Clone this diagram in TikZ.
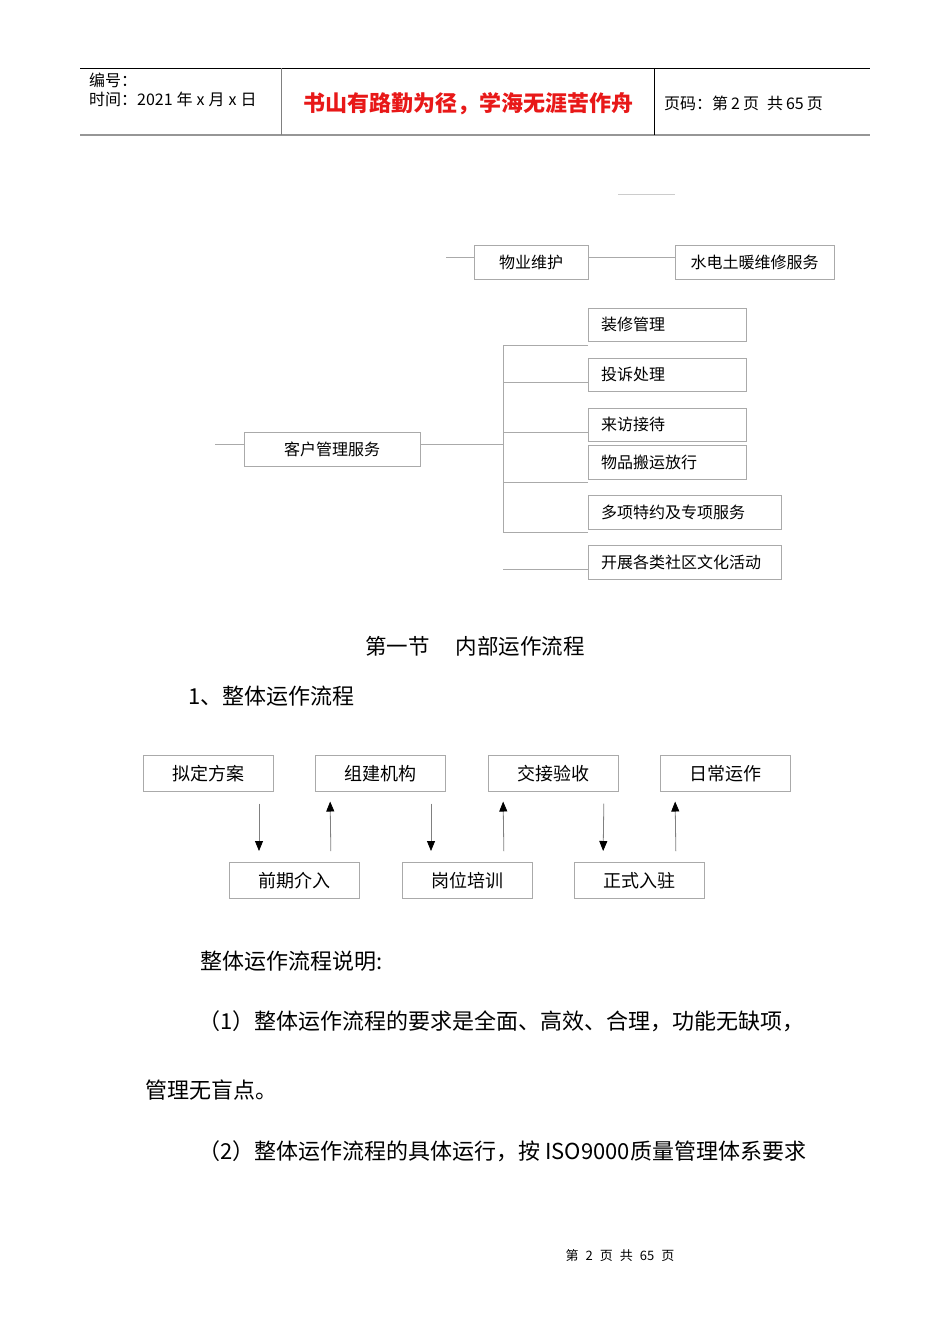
\documentclass[tikz,border=0pt]{standalone}
\usepackage{fontspec}
\setmainfont{Noto Sans CJK SC}
\usetikzlibrary{calc,arrows.meta}

\definecolor{mottored}{RGB}{232,24,24}
\definecolor{rulegray}{RGB}{150,150,150}
\definecolor{boxgray}{RGB}{170,170,170}

\tikzset{
  treebox/.style={draw=boxgray, line width=1pt, inner xsep=13pt, inner ysep=0pt, outer sep=0pt,
    minimum height=34pt, font=\fontsize{16}{18}\selectfont},
  flowbox/.style={draw=boxgray, line width=1pt, minimum width=130pt, minimum height=36.5pt,
    inner sep=0pt, outer sep=0pt, font=\fontsize{18}{20}\selectfont},
  link/.style={draw=boxgray, line width=1pt},
  flowarrow/.style={draw=gray, line width=0.8pt, -{Triangle[length=10pt,width=8pt,color=black]}},
  bodytext/.style={anchor=west, inner sep=0pt, font=\fontsize{22}{24}\selectfont},
  headtext/.style={anchor=west, inner sep=0pt, font=\fontsize{16}{18}\selectfont},
}

\begin{document}
\begin{tikzpicture}[x=1pt,y=-1pt]

\fill[white] (0,0) rectangle (950,1344);
\useasboundingbox (0,0) rectangle (950,1344);

% page header
\draw [line width=1pt] (80,68) -- (870,68);
\draw [rulegray,line width=2.5pt] (80,135) -- (870,135);
\draw [gray,line width=0.8pt] (281,68) -- (281,135);
\draw [line width=0.8pt] (654,68) -- (654,135);
\node[headtext] (serial) at (89,80) {编号：};
\node[headtext] (date) at (89,99) {时间：2021\hspace{4pt}年\hspace{4pt}x\hspace{4pt}月\hspace{4pt}x\hspace{4pt}日};
\node[inner sep=0pt,text=mottored,font=\fontsize{22}{24}\selectfont\bfseries] (motto) at (468,104) {书山有路勤为径，学海无涯苦作舟};
\node[headtext] (pageno) at (664,103) {页码：第\hspace{3pt}2\hspace{3pt}页\hspace{8pt}共\hspace{3pt}65\hspace{3pt}页};

\draw [gray!40,line width=1pt] (618,194) -- (675,194);

% service tree
\node[treebox,minimum width=114pt] (upkeep) at (531,262) {物业维护};
\node[treebox,minimum width=159pt] (utility) at (754.5,262) {水电土暖维修服务};
\coordinate (upstub) at (446,257);
\draw[link] (upstub) -- (upstub -| upkeep.west);
\draw[link] (upstub -| upkeep.east) -- (upstub -| utility.west);

\node[treebox,minimum width=176pt] (customer) at (332,449) {客户管理服务};
\coordinate (custstub) at (215,444);
\coordinate (fork) at (503,444);
\draw[link] (custstub) -- (custstub -| customer.west);
\draw[link] (fork -| customer.east) -- (fork);

\node[treebox,anchor=north west,minimum height=33pt,text width=132pt,align=left] (decor) at (588,308) {装修管理};
\node[treebox,anchor=north west,minimum height=33pt,text width=132pt,align=left] (complaint) at (588,358) {投诉处理};
\node[treebox,anchor=north west,minimum height=33pt,text width=132pt,align=left] (visit) at (588,408) {来访接待};
\node[treebox,anchor=north west,text width=132pt,align=left] (moving) at (588,445) {物品搬运放行};
\node[treebox,anchor=north west,text width=167pt,align=left] (special) at (588,495) {多项特约及专项服务};
\node[treebox,anchor=north west,text width=167pt,align=left] (culture) at (588,545) {开展各类社区文化活动};

\coordinate (forktop) at (503,345);
\coordinate (forkb) at (503,382);
\coordinate (forkc) at (503,432);
\coordinate (forkd) at (503,482);
\coordinate (forkbot) at (503,532);
\coordinate (culturestub) at (503,569);
\draw[link] (forktop) -- (forkbot);
\draw[link] (forktop) -- (forktop -| decor.west);
\draw[link] (forkb) -- (forkb -| complaint.west);
\draw[link] (forkc) -- (forkc -| visit.west);
\draw[link] (forkd) -- (forkd -| moving.west);
\draw[link] (forkbot) -- (forkbot -| special.west);
\draw[link] (culturestub) -- (culturestub -| culture.west);

% section heading
\node[bodytext,font=\fontsize{21.5}{24}\selectfont] (section) at (365,646) {第一节\hspace{26pt}内部运作流程};
\node[bodytext] (subsection) at (188,696) {1、整体运作流程};

% overall workflow
\node[flowbox,anchor=north west] (plan) at (143,755) {拟定方案};
\node[flowbox,anchor=north west] (build) at (315,755) {组建机构};
\node[flowbox,anchor=north west] (handover) at (488,755) {交接验收};
\node[flowbox,anchor=north west] (daily) at (660,755) {日常运作};
\node[flowbox,anchor=north west] (early) at (229,862) {前期介入};
\node[flowbox,anchor=north west] (training) at (402,862) {岗位培训};
\node[flowbox,anchor=north west] (entry) at (574,862) {正式入驻};

\draw[flowarrow,shorten <=12pt,shorten >=11pt] ([xshift=-14pt]plan.south east) -- ([xshift=30pt]early.north west);
\draw[flowarrow,shorten <=11pt,shorten >=10pt] ([xshift=-28pt]early.north east) -- ([xshift=15pt]build.south west);
\draw[flowarrow,shorten <=12pt,shorten >=11pt] ([xshift=-14pt]build.south east) -- ([xshift=29pt]training.north west);
\draw[flowarrow,shorten <=11pt,shorten >=10pt] ([xshift=-28pt]training.north east) -- ([xshift=15pt]handover.south west);
\draw[flowarrow,shorten <=12pt,shorten >=11pt] ([xshift=-14pt]handover.south east) -- ([xshift=29pt]entry.north west);
\draw[flowarrow,shorten <=11pt,shorten >=10pt] ([xshift=-28pt]entry.north east) -- ([xshift=15pt]daily.south west);

% notes
\node[bodytext] (notehead) at (200,961) {整体运作流程说明:};
\node[bodytext] (noteone) at (198,1021) {（1）整体运作流程的要求是全面、高效、合理，功能无缺项，};
\node[bodytext] (noteonecont) at (145,1090) {管理无盲点。};
\node[bodytext] (notetwo) at (198,1151) {（2）整体运作流程的具体运行，按 ISO9000质量管理体系要求};

\node[inner sep=0pt,font=\fontsize{13}{15}\selectfont] (footer) at (620,1256) {第\hspace{7pt}2\hspace{7pt}页\hspace{7pt}共\hspace{7pt}65\hspace{7pt}页};

\end{tikzpicture}
\end{document}
